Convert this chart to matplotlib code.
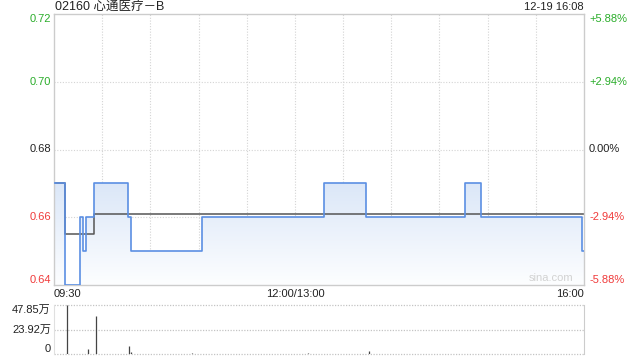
import numpy as np
import matplotlib
matplotlib.use("Agg")
import matplotlib.pyplot as plt
from matplotlib.colors import LinearSegmentedColormap
import matplotlib.transforms as mtransforms

plt.rcParams['font.family'] = ['Liberation Sans', 'Noto Sans CJK SC', 'DejaVu Sans']

# ------------------------------------------------------------------
# data (minutes since 09:30, lunch break removed: 0..330)
# ------------------------------------------------------------------
title = "02160 心通医疗－B"
stamp = "12-19 16:08"
prev_close = 0.68

price_t = [0, 7, 16, 18, 20, 25, 46, 48, 92, 168, 194, 256, 266, 329, 330]
price_v = [0.67, 0.64, 0.66, 0.65, 0.66, 0.67, 0.66, 0.65, 0.66, 0.67, 0.66, 0.67, 0.66, 0.65, 0.65]

avg_t = [0, 7, 25, 330]
avg_v = [0.67, 0.655, 0.661, 0.661]

vol_t = [8, 21, 26, 47, 48, 86, 158, 196]
vol_v = [478500, 49000, 374000, 78000, 20000, 12000, 12000, 25000]

y_ticks = [0.72, 0.70, 0.68, 0.66, 0.64]
y_labels = ["0.72", "0.70", "0.68", "0.66", "0.64"]
pct_labels = ["+5.88%", "+2.94%", "0.00%", "-2.94%", "-5.88%"]
x_ticks = [0, 150, 330]
x_labels = ["09:30", "12:00/13:00", "16:00"]
vol_ticks = [478500, 239250, 0]
vol_labels = ["47.85万", "23.92万", "0"]

GREEN = '#2aad2a'
RED = '#f03a3a'
GRID = '#d4d4d4'
LINE = '#5b8fe3'

W, H = 640, 360
fig = plt.figure(figsize=(6.4, 3.6), dpi=100)

def box(x0, y0, x1, y1):
    return [x0 / W, 1 - y1 / H, (x1 - x0) / W, (y1 - y0) / H]

# ------------------------------------------------------------------
# price panel
# ------------------------------------------------------------------
ax = fig.add_axes(box(54, 14, 584, 285))
ax.set_xlim(0, 330)
ax.set_ylim(0.64, 0.72)
ax.set_xticks([])
ax.set_yticks([])
for s in ax.spines.values():
    s.set_color('#cccccc')
    s.set_linewidth(1)

for m in range(30, 330, 30):
    ax.axvline(m, color=GRID, lw=0.8, ls=(0, (1, 1.5)), zorder=0)
for yv in [0.70, 0.68, 0.66]:
    ax.axhline(yv, color=GRID, lw=0.8, ls=(0, (1, 1.5)), zorder=0)

# gradient fill under price line
poly = ax.fill_between(price_t, price_v, 0.64, step='post', facecolor='none', edgecolor='none')
cmap = LinearSegmentedColormap.from_list('fade', ['#fdfeff', '#dbe7f8'])
grad = np.linspace(0, 1, 256).reshape(-1, 1)
img = ax.imshow(grad, extent=[0, 330, 0.64, max(price_v)], aspect='auto', origin='lower',
                cmap=cmap, zorder=1)
img.set_clip_path(poly.get_paths()[0], transform=ax.transData)

ax.plot(price_t, price_v, drawstyle='steps-post', color=LINE, lw=1.2, zorder=3)
ax.plot(avg_t, avg_v, drawstyle='steps-post', color='#555555', lw=1.1, zorder=2)

trans_l = mtransforms.blended_transform_factory(fig.transFigure, ax.transData)
for i, (yv, lab, pl) in enumerate(zip(y_ticks, y_labels, pct_labels)):
    if yv > prev_close:
        c = GREEN
    elif yv < prev_close:
        c = RED
    else:
        c = '#222222'
    va = 'top' if i == 0 else ('bottom' if i == len(y_ticks) - 1 else 'center')
    ax.text(51 / W, yv, lab, transform=trans_l, ha='right', va=va, fontsize=8, color=c)
    ax.text(589 / W, yv, pl, transform=trans_l, ha='left', va=va, fontsize=8, color=c)

for xv, lab, ha in zip(x_ticks, x_labels, ['left', 'center', 'right']):
    fig.text(54 / W + xv / 330 * 530 / W, 1 - 294 / H, lab, ha=ha, va='center',
             fontsize=8, color='#222222')

ax.text(573 / W, 0.6405, "sina.com", transform=trans_l, ha='right', va='bottom',
        fontsize=8, color='#d2d2d2')

fig.text(55 / W, 1 - 7 / H, title, ha='left', va='center', fontsize=9, color='#222222')
fig.text(584 / W, 1 - 7 / H, stamp, ha='right', va='center', fontsize=8, color='#222222')

# ------------------------------------------------------------------
# volume panel
# ------------------------------------------------------------------
axv = fig.add_axes(box(54, 305, 584, 354))
axv.set_xlim(0, 330)
axv.set_ylim(0, 478500)
axv.set_xticks([])
axv.set_yticks([])
for k in ['top', 'bottom']:
    axv.spines[k].set_visible(False)
axv.spines['left'].set_color('#e0e0e0')
axv.spines['right'].set_color('#cccccc')
for yv in vol_ticks:
    axv.axhline(yv, color='#c4c4c4', lw=0.9, ls=(0, (1, 1.2)), zorder=0, clip_on=False)
axv.vlines(vol_t, 0, vol_v, color='#444444', lw=0.9, zorder=2)

trans_v = mtransforms.blended_transform_factory(fig.transFigure, axv.transData)
for i, (yv, lab) in enumerate(zip(vol_ticks, vol_labels)):
    va = 'top' if i == 0 else ('bottom' if i == len(vol_ticks) - 1 else 'center')
    axv.text(51 / W, yv, lab, transform=trans_v, ha='right', va=va, fontsize=8, color='#222222')

fig.savefig('out.png', dpi=100)
